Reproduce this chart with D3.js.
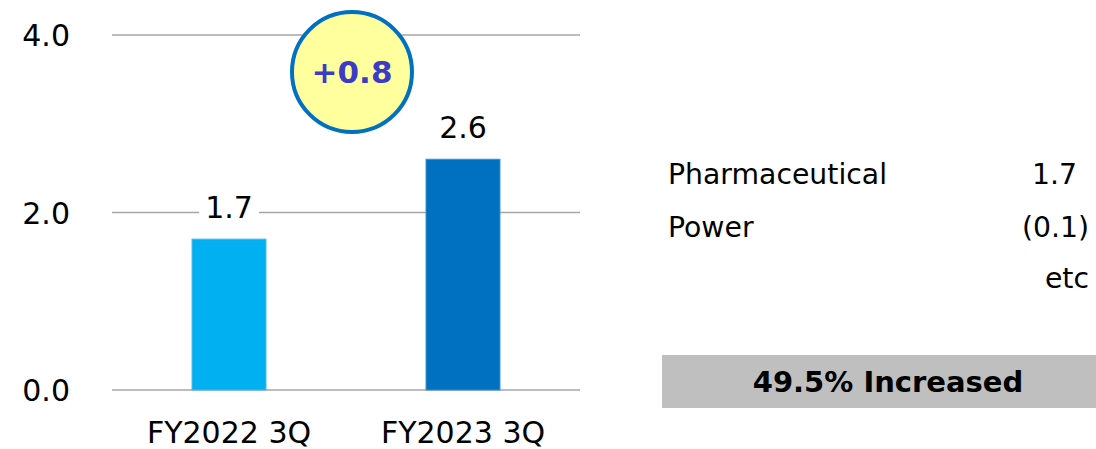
<!DOCTYPE html>
<html>
<head>
<meta charset="utf-8">
<script src="https://cdn.jsdelivr.net/npm/d3@7"></script>
<style>
  html, body { margin: 0; padding: 0; background: #fff; }
  svg { display: block; font-family: "DejaVu Sans", Verdana, sans-serif; }
</style>
</head>
<body>
<svg id="chart" width="1096" height="449"></svg>
<script>
// ---- data ----
const categories = ["FY2022 3Q", "FY2023 3Q"];
const values = [1.7, 2.6];
const valueLabels = ["1.7", "2.6"];
const barColors = ["#00B0F0", "#0070C0"];
const yTicks = [0, 2, 4];
const yTickLabels = ["0.0", "2.0", "4.0"];
const diffLabel = "+0.8";
const breakdownNames = ["Pharmaceutical", "Power", ""];
const breakdownValues = ["1.7", "(0.1)", "etc"];
const summaryText = "49.5% Increased";

const svg = d3.select("#chart");

const x = d3.scaleBand().domain(categories).range([112, 580])
  .paddingInner(0.684).paddingOuter(0.342);
const y = d3.scaleLinear().domain([0, 4]).range([390, 35]);

// gridlines
const grid = svg.append("g");
grid.selectAll("line").data(yTicks).join("line")
  .attr("x1", 112).attr("x2", 580)
  .attr("y1", d => y(d)).attr("y2", d => y(d))
  .attr("stroke", "#A6A6A6").attr("stroke-width", 1.3);

// y tick labels via axis
const yAxis = d3.axisLeft(y).tickValues(yTicks)
  .tickFormat((d, i) => yTickLabels[i]).tickSize(0).tickPadding(0);
const yg = svg.append("g").attr("transform", "translate(70,0)").call(yAxis);
yg.select(".domain").remove();
yg.selectAll("text").attr("font-size", 30).attr("fill", "#000")
  .attr("font-family", "DejaVu Sans, Verdana, sans-serif")
  .attr("dy", "0.36em");

// x labels via axis
const xAxis = d3.axisBottom(x).tickSize(0).tickPadding(0);
const xg = svg.append("g").attr("transform", "translate(0,390)").call(xAxis);
xg.select(".domain").remove();
xg.selectAll("text").attr("font-size", 30).attr("fill", "#000")
  .attr("font-family", "DejaVu Sans, Verdana, sans-serif")
  .attr("dy", null).attr("y", 53);

// bars
svg.append("g").selectAll("rect").data(values).join("rect")
  .attr("x", (d, i) => x(categories[i]))
  .attr("width", x.bandwidth())
  .attr("y", d => y(d))
  .attr("height", d => y(0) - y(d))
  .attr("fill", (d, i) => barColors[i])
  .attr("stroke", (d, i) => i === 0 ? "#4FB8E8" : "#3A90C8")
  .attr("stroke-width", 1);

// value labels with white background
const lg = svg.append("g");
values.forEach((v, i) => {
  const cx = x(categories[i]) + x.bandwidth() / 2;
  const g = lg.append("g");
  const t = g.append("text")
    .attr("x", cx).attr("y", y(v) - 21)
    .attr("text-anchor", "middle").attr("font-size", 30).attr("fill", "#000")
    .text(valueLabels[i]);
  const bb = t.node().getBBox();
  g.insert("rect", "text")
    .attr("x", bb.x - 6).attr("y", bb.y).attr("width", bb.width + 12).attr("height", bb.height)
    .attr("fill", "#fff");
});

// diff circle
const cg = svg.append("g").attr("transform", "translate(352,72)");
cg.append("circle").attr("r", 60).attr("fill", "#FFFF9E")
  .attr("stroke", "#0070C0").attr("stroke-width", 4);
cg.append("text").attr("text-anchor", "middle").attr("dy", "0.36em")
  .attr("font-size", 31).attr("font-weight", "bold").attr("fill", "#3B3BC8")
  .text(diffLabel);

// breakdown table
const rowY = [184, 237, 288];
const tg = svg.append("g");
tg.selectAll("text.name").data(breakdownNames).join("text").attr("class", "name")
  .attr("x", 668).attr("y", (d, i) => rowY[i])
  .attr("font-size", 28.3).attr("fill", "#000").text(d => d);
tg.selectAll("text.val").data(breakdownValues).join("text").attr("class", "val")
  .attr("x", (d, i) => i === 0 ? 1077 : 1089).attr("y", (d, i) => rowY[i])
  .attr("text-anchor", "end").attr("font-size", 28.3).attr("fill", "#000").text(d => d);

// summary box
svg.append("rect").attr("x", 662).attr("y", 355).attr("width", 434).attr("height", 53)
  .attr("fill", "#BFBFBF");
svg.append("text").attr("x", 888).attr("y", 392).attr("text-anchor", "middle")
  .attr("font-size", 29).attr("font-weight", "bold").attr("fill", "#000")
  .text(summaryText);
</script>
</body>
</html>
